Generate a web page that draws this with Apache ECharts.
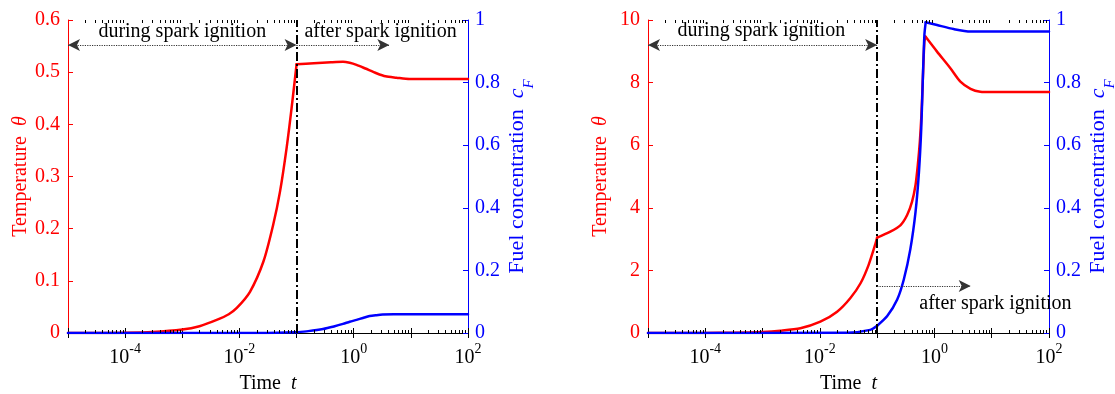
<!DOCTYPE html>
<html>
<head>
<meta charset="utf-8">
<script src="https://cdn.jsdelivr.net/npm/echarts@6/dist/echarts.min.js"></script>
<style>
html,body{margin:0;padding:0;background:#fff;}
#chart{width:1115px;height:394px;}
</style>
</head>
<body>
<div id="chart"></div>
<script>
// ---- Data ----
// Left panel
const tL_temp = [1e-5, 3e-5, 1e-4, 3e-4, 1e-3, 2e-3, 4e-3, 6.5e-3, 9e-3, 0.0153, 0.0263, 0.0389, 0.0513, 0.0668, 0.0818, 0.1, 0.2, 0.4, 0.65, 0.85, 1.12, 1.6, 2.5, 3.6, 5.6, 9.5, 100];
const thetaL  = [0, 0.0001, 0.0004, 0.0018, 0.0065, 0.013, 0.025, 0.036, 0.048, 0.079, 0.137, 0.207, 0.271, 0.354, 0.431, 0.515, 0.517, 0.519, 0.520, 0.518, 0.514, 0.507, 0.498, 0.492, 0.4895, 0.487, 0.487];
const tL_fuel = [1e-5, 0.03, 0.1, 0.16, 0.29, 0.45, 0.65, 0.85, 1.12, 1.45, 1.9, 2.5, 3.2, 5, 100];
const cFL     = [0, 0, 0.002, 0.006, 0.013, 0.021, 0.029, 0.036, 0.042, 0.048, 0.054, 0.057, 0.059, 0.06, 0.06];
// Right panel
const tR_temp = [1e-5, 1e-4, 3e-4, 1e-3, 2.04e-3, 4.57e-3, 0.0102, 0.02, 0.0339, 0.0513, 0.0708, 0.0933, 0.1, 0.17, 0.257, 0.334, 0.407, 0.468, 0.513, 0.556, 0.593, 0.625, 0.668, 0.697, 1.11, 1.9, 2.84, 4.27, 6.3, 10, 100];
const thetaR  = [0, 0.002, 0.01, 0.035, 0.073, 0.15, 0.36, 0.68, 1.11, 1.59, 2.17, 2.85, 3.05, 3.24, 3.45, 3.77, 4.2, 4.73, 5.37, 6.11, 6.96, 8.03, 9.31, 9.47, 8.99, 8.46, 8.03, 7.8, 7.71, 7.7, 7.7];
const tR_fuel = [1e-5, 0.03, 0.0759, 0.1, 0.15, 0.224, 0.292, 0.38, 0.468, 0.537, 0.589, 0.625, 0.668, 0.705, 1.11, 2.17, 4.27, 10, 100];
const cFR     = [0, 0.001, 0.01, 0.023, 0.054, 0.107, 0.171, 0.268, 0.387, 0.515, 0.654, 0.803, 0.952, 0.993, 0.984, 0.971, 0.963, 0.963, 0.963];
// Corners in the curves (spark switched off, peak)
const breaksL = [0.1];
const breaksR_temp = [0.1, 0.697];
const breaksR_fuel = [0.1, 0.705];
// Axes
const xMin = 1e-5, xMax = 100;
const decades = [-5, -4, -3, -2, -1, 0, 1];
const minorMults = [2, 3, 4, 5, 6, 7, 8, 9];
const yLeftL = {min: 0, max: 0.6, interval: 0.1};
const yLeftR = {min: 0, max: 10, interval: 2};
const yRight = {min: 0, max: 1, interval: 0.2};
const ignitionTime = 0.1;
const texts = {during: 'during spark ignition', after: 'after spark ignition'};

const minorTicks = [];
decades.forEach(d => minorMults.forEach(m => minorTicks.push([m * Math.pow(10, d)])));

const FONT = 'Liberation Serif';
const RED = '#ff0000', BLUE = '#0000ff';

function segments(xs, ys, breaks) {
  const segs = [];
  let cur = [];
  xs.forEach((x, i) => {
    cur.push([x, ys[i]]);
    if (breaks.indexOf(x) >= 0) { segs.push(cur); cur = [[x, ys[i]]]; }
  });
  if (cur.length > 1) segs.push(cur);
  return segs;
}

function xAxes(grid) {
  return [{
    type: 'log', logBase: 10, gridIndex: grid, min: xMin, max: xMax, position: 'bottom',
    axisLine: {show: true, lineStyle: {color: '#000', width: 1}},
    axisTick: {show: true, inside: true, length: 5, lineStyle: {color: '#000'}},
    splitLine: {show: false},
    axisLabel: {
      margin: 9,
      formatter: v => { const e = Math.round(Math.log10(v)); return (e % 2 === 0) ? '{b|10}{s|' + e + '}' : ''; },
      rich: {
        b: {fontFamily: FONT, fontSize: 20, color: '#000', verticalAlign: 'bottom', lineHeight: 26},
        s: {fontFamily: FONT, fontSize: 14, color: '#000', verticalAlign: 'top', lineHeight: 14}
      }
    },
    name: '{n|Time}  {i|t}', nameLocation: 'middle', nameGap: 41,
    nameTextStyle: {fontFamily: FONT, fontSize: 20, color: '#000',
      rich: {n: {fontFamily: FONT, fontSize: 20, color: '#000'}, i: {fontFamily: FONT, fontSize: 20, fontStyle: 'italic', color: '#000'}}}
  }, {
    type: 'log', logBase: 10, gridIndex: grid, min: xMin, max: xMax, position: 'top',
    axisLine: {show: true, lineStyle: {color: '#000', width: 1}},
    axisTick: {show: true, inside: true, length: 5, lineStyle: {color: '#000'}},
    axisLabel: {show: false}, splitLine: {show: false}
  }];
}

function yAxisLeft(grid, r) {
  return {
    type: 'value', gridIndex: grid, position: 'left', min: r.min, max: r.max, interval: r.interval,
    axisLine: {show: true, lineStyle: {color: RED, width: 1}},
    axisTick: {show: true, inside: true, length: 5, lineStyle: {color: RED}},
    splitLine: {show: false},
    axisLabel: {color: RED, fontFamily: FONT, fontSize: 20, margin: 8, formatter: v => String(Math.round(v * 10) / 10)},
    name: '{n|Temperature}  {i|θ}', nameLocation: 'middle', nameGap: 37,
    nameTextStyle: {color: RED, fontFamily: FONT, fontSize: 20,
      rich: {n: {color: RED, fontFamily: FONT, fontSize: 20}, i: {color: RED, fontFamily: FONT, fontSize: 20, fontStyle: 'italic'}}}
  };
}
function yAxisRight(grid) {
  return {
    type: 'value', gridIndex: grid, position: 'right', min: yRight.min, max: yRight.max, interval: yRight.interval,
    axisLine: {show: true, lineStyle: {color: BLUE, width: 1}},
    axisTick: {show: true, inside: true, length: 5, lineStyle: {color: BLUE}},
    splitLine: {show: false},
    axisLabel: {color: BLUE, fontFamily: FONT, fontSize: 20, margin: 7, formatter: v => String(Math.round(v * 10) / 10)},
    name: '{n|Fuel concentration}  {i|c}{s|F}', nameLocation: 'middle', nameGap: 38,
    nameTextStyle: {color: BLUE, fontFamily: FONT, fontSize: 22,
      rich: {
        n: {color: BLUE, fontFamily: FONT, fontSize: 22, verticalAlign: 'top', lineHeight: 22},
        i: {color: BLUE, fontFamily: FONT, fontSize: 22, fontStyle: 'italic', verticalAlign: 'top', lineHeight: 22},
        s: {color: BLUE, fontFamily: FONT, fontSize: 15, fontStyle: 'italic', verticalAlign: 'bottom', lineHeight: 31}
      }}
  };
}

const vLine = {
  silent: true, symbol: 'none', animation: false,
  label: {show: false},
  lineStyle: {color: '#000', width: 2, type: [9, 3, 2, 3]},
  data: [{xAxis: ignitionTime}]
};
function arrowLines(list) {
  return {
    silent: true, animation: false, symbolSize: [9, 12],
    label: {show: false},
    lineStyle: {color: '#333', width: 1.2, type: 'dotted'},
    data: list.map(a => [
      {coord: [a.from, a.y], symbol: a.both ? 'arrow' : 'none'},
      {coord: [a.to, a.y], symbol: 'arrow'}
    ])
  };
}
function textPoints(list) {
  return {
    silent: true, animation: false, symbol: 'rect', symbolSize: 1,
    itemStyle: {color: 'rgba(0,0,0,0)'},
    label: {show: true, position: 'inside', color: '#000', fontFamily: FONT, fontSize: 20},
    data: list.map(p => ({coord: [p.t, p.y], label: {formatter: p.text}}))
  };
}

function minorTickSeries(xi, yi) {
  return {
    type: 'custom', xAxisIndex: xi, yAxisIndex: yi, silent: true, clip: false, z: 5,
    data: minorTicks,
    encode: {x: 0},
    renderItem: (params, api) => {
      const cs = params.coordSys;
      const p = api.coord([api.value(0), 0]);
      const x = Math.round(p[0]) + 0.5;
      const bottom = cs.y + cs.height, top = cs.y;
      return {
        type: 'group',
        children: [
          {type: 'line', shape: {x1: x, y1: bottom, x2: x, y2: bottom - 3}, style: {stroke: '#000', lineWidth: 1}},
          {type: 'line', shape: {x1: x, y1: top, x2: x, y2: top + 3}, style: {stroke: '#000', lineWidth: 1}}
        ]
      };
    }
  };
}

function curveSeries(xi, yi, xs, ys, breaks, color, z, extras) {
  return segments(xs, ys, breaks).map((seg, k) => Object.assign({
    type: 'line', xAxisIndex: xi, yAxisIndex: yi, data: seg,
    showSymbol: false, symbol: 'none', smooth: 0.25,
    lineStyle: {color: color, width: 2.5, cap: 'round', join: 'round'}, itemStyle: {color: color}, z: z
  }, k === 0 ? extras : {}));
}

const option = {
  animation: false,
  backgroundColor: '#fff',
  grid: [
    {left: 68, top: 20, width: 400, height: 313, outerBoundsMode: 'none', containLabel: false},
    {left: 648, top: 20, width: 401, height: 313, outerBoundsMode: 'none', containLabel: false}
  ],
  xAxis: [...xAxes(0), ...xAxes(1)],
  yAxis: [yAxisLeft(0, yLeftL), yAxisRight(0), yAxisLeft(1, yLeftR), yAxisRight(1)],
  series: [
    minorTickSeries(0, 0),
    minorTickSeries(2, 2),
    ...curveSeries(0, 0, tL_temp, thetaL, breaksL, RED, 3, {markLine: vLine}),
    ...curveSeries(0, 1, tL_fuel, cFL, breaksL, BLUE, 4, {
      markLine: arrowLines([
        {from: xMin, to: ignitionTime, y: 0.92, both: true},
        {from: ignitionTime, to: 4.2, y: 0.92, both: false}
      ]),
      markPoint: textPoints([
        {t: 1e-3, y: 0.963, text: texts.during},
        {t: 2.95, y: 0.963, text: texts.after}
      ])
    }),
    ...curveSeries(2, 2, tR_temp, thetaR, breaksR_temp, RED, 3, {markLine: vLine}),
    ...curveSeries(2, 3, tR_fuel, cFR, breaksR_fuel, BLUE, 4, {
      markLine: arrowLines([
        {from: xMin, to: ignitionTime, y: 0.92, both: true},
        {from: ignitionTime, to: 4.3, y: 0.15, both: false}
      ]),
      markPoint: textPoints([
        {t: 9.5e-4, y: 0.965, text: texts.during},
        {t: 11.6, y: 0.093, text: texts.after}
      ])
    })
  ]
};

const chart = echarts.init(document.getElementById('chart'), null, {renderer: 'canvas'});
chart.setOption(option);
</script>
</body>
</html>
